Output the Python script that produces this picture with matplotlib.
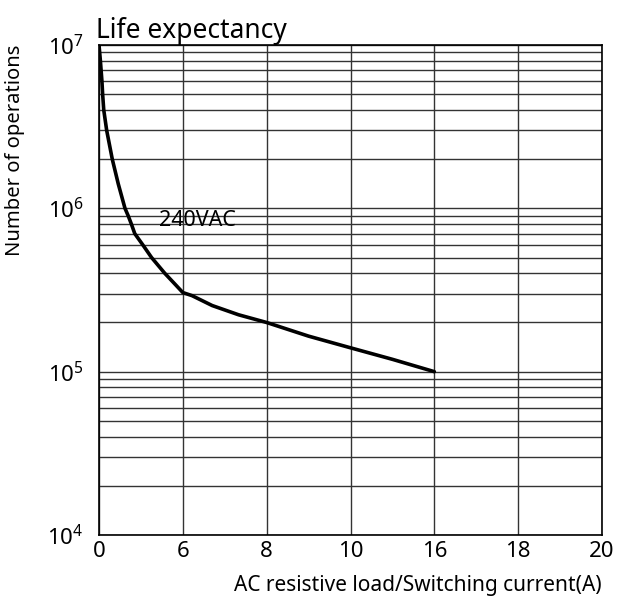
import numpy as np
import matplotlib.pyplot as plt
from matplotlib.ticker import LogLocator, NullFormatter

plt.rcParams['font.family'] = ['Noto Sans', 'DejaVu Sans']
plt.rcParams['mathtext.fontset'] = 'custom'
plt.rcParams['mathtext.rm'] = 'Noto Sans'

# x axis is not linear: ticks are evenly spaced
x_ticks = [0, 6, 8, 10, 16, 18, 20]

# 240VAC curve
current = [0, 0.10, 0.21, 0.26, 0.34, 0.55, 0.95, 1.38, 1.86, 2.09, 2.32, 2.56,
           3.12, 3.76, 4.71, 5.43, 6.0, 6.22, 6.70, 7.33, 8.0, 9.0, 10.0, 13.0, 16.0]
operations = [1.0e7, 8.0e6, 6.0e6, 5.0e6, 4.0e6, 3.0e6, 2.0e6, 1.41e6, 1.0e6, 9.0e5,
              8.0e5, 7.0e5, 6.0e5, 5.0e5, 4.0e5, 3.44e5, 3.05e5, 2.92e5, 2.54e5,
              2.23e5, 2.0e5, 1.65e5, 1.40e5, 1.19e5, 1.0e5]

pos = np.arange(len(x_ticks), dtype=float)


def fwd(x):
    return np.interp(x, x_ticks, pos)


def inv(p):
    return np.interp(p, pos, x_ticks)


fig = plt.figure(figsize=(6.17, 5.97), dpi=100)
ax = fig.add_axes([99 / 617, 62 / 597, 503 / 617, 490 / 597])

ax.set_xscale('function', functions=(fwd, inv))
ax.set_yscale('log')
ax.set_xlim(0, 20)
ax.set_ylim(1e4, 1e7)

ax.set_xticks(x_ticks)
ax.set_xticklabels([str(t) for t in x_ticks])
ax.yaxis.set_major_locator(LogLocator(base=10))
ax.yaxis.set_minor_locator(LogLocator(base=10, subs=np.arange(2, 10)))
ax.yaxis.set_minor_formatter(NullFormatter())

ax.grid(True, which='major', axis='both', color='#333333', lw=1.0)
ax.grid(True, which='minor', axis='y', color='#333333', lw=1.0)
ax.tick_params(which='both', length=0, labelsize=16, pad=4)
ax.tick_params(axis='y', pad=11)
for s in ax.spines.values():
    s.set_color('black')
    s.set_linewidth(1.2)

ax.plot(current, operations, color='black', lw=2.6, zorder=3,
        solid_joinstyle='round', solid_capstyle='round')
ax.text(6.36, 8.4e5, '240VAC', fontsize=15.5, ha='center', va='center')

ax.set_title('Life expectancy', loc='left', fontsize=19, pad=2, x=-0.005)
ax.set_xlabel('AC resistive load/Switching current(A)', fontsize=15, loc='right', labelpad=10)
ax.set_ylabel('Number of operations', fontsize=14.5, loc='top', labelpad=16)

fig.savefig('out.png', dpi=100)
